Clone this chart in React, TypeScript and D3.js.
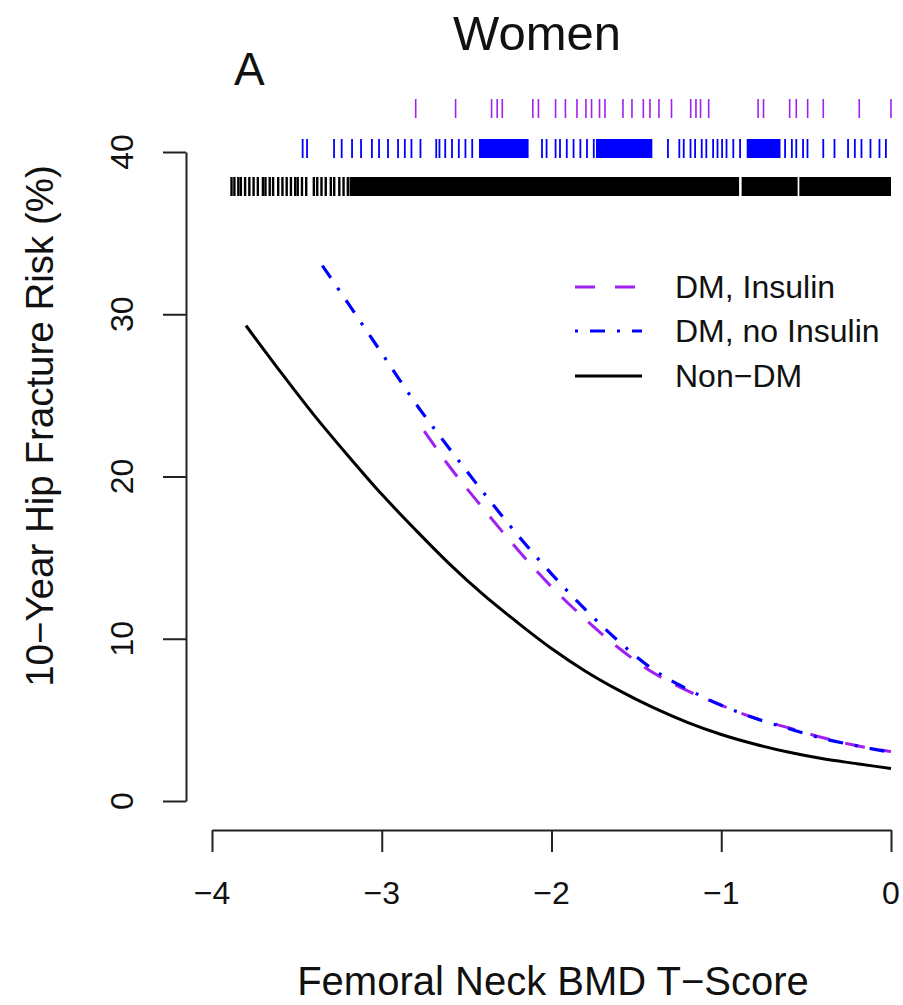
import React, { useEffect, useRef } from 'react';
import * as d3 from 'd3';

const W = 903;
const H = 1005;

const xTicks = [-4, -3, -2, -1, 0];
const yTicks = [0, 10, 20, 30, 40];

// Non-DM curve
const tNonDM = [-3.8, -3.6, -3.4, -3.2, -3.0, -2.8, -2.6, -2.4, -2.2, -2.0, -1.8, -1.6, -1.4, -1.2, -1.0, -0.8, -0.6, -0.4, -0.2, 0];
const riskNonDM = [29.3, 26.5, 23.8, 21.3, 18.9, 16.7, 14.6, 12.7, 11.0, 9.4, 8.0, 6.8, 5.75, 4.85, 4.1, 3.5, 3.0, 2.6, 2.3, 2.0];

// DM, no insulin
const tNoIns = [-3.35, -3.2, -3.0, -2.8, -2.6, -2.4, -2.2, -2.0, -1.8, -1.6, -1.4, -1.2, -1.0, -0.8, -0.6, -0.4, -0.2, 0];
const riskNoIns = [33.0, 30.7, 27.6, 24.5, 21.7, 19.0, 16.4, 14.0, 11.8, 9.8, 8.1, 6.9, 5.9, 5.1, 4.45, 3.85, 3.4, 3.0];

// DM, insulin
const tIns = [-2.75, -2.6, -2.4, -2.2, -2.0, -1.8, -1.6, -1.4, -1.2, -1.0, -0.8, -0.6, -0.4, -0.2, 0];
const riskIns = [22.8, 20.6, 18.0, 15.5, 13.2, 11.2, 9.4, 7.9, 6.8, 5.9, 5.1, 4.5, 3.9, 3.4, 3.05];

// Rug observations (T-scores)
const rugIns = [-2.80, -2.565, -2.353, -2.32, -2.29, -2.11, -2.077, -1.976, -1.918, -1.85, -1.797, -1.764, -1.717, -1.685, -1.579, -1.526, -1.459, -1.42, -1.367, -1.293, -1.18, -1.149, -1.122, -1.074, -0.783, -0.751, -0.597, -0.558, -0.491, -0.399, -0.187, 0.0];
const rugNoIns = [-3.466, -3.44, -3.281, -3.236, -3.175, -3.122, -3.058, -3.016, -2.963, -2.904, -2.864, -2.825, -2.772, -2.679, -2.66, -2.626, -2.586, -2.546, -2.507, -2.467, -2.056, -2.029, -1.976, -1.95, -1.91, -1.87, -1.83, -1.791, -1.751, -1.314, -1.247, -1.221, -1.181, -1.154, -1.115, -1.088, -1.048, -1.022, -0.995, -0.969, -0.929, -0.889, -0.624, -0.584, -0.558, -0.518, -0.492, -0.399, -0.333, -0.253, -0.213, -0.174, -0.121, -0.068, -0.03];
const rugNoInsDense = [[-2.427, -2.135], [-1.738, -1.406], [-0.85, -0.651]];
const rugNonDM = [-3.885, -3.868, -3.845, -3.83, -3.805, -3.78, -3.755, -3.73, -3.70, -3.685, -3.66, -3.64, -3.61, -3.585, -3.56, -3.535, -3.51, -3.495, -3.47, -3.445, -3.40, -3.38, -3.355, -3.33, -3.30, -3.28, -3.25, -3.225, -3.20];
const rugNonDMDense = [[-3.19, -0.895], [-0.88, -0.55], [-0.54, 0]];

const seriesNames = ['DM, Insulin', 'DM, no Insulin', 'Non\u2212DM'];

const FONT = "'Liberation Sans', Arial, Helvetica, sans-serif";
const PURPLE = '#a020f0';
const BLUE = '#0000ff';

export default function App() {
  const ref = useRef<SVGSVGElement>(null);

  useEffect(() => {
    const svg = d3.select(ref.current);
    svg.selectAll('*').remove();

    const x = d3.scaleLinear().domain([-4, 0]).range([212, 891]);
    const y = d3.scaleLinear().domain([0, 40]).range([801, 152]);

    // Axes
    const yAxis = svg.append('g').attr('transform', 'translate(186,0)')
      .call(d3.axisLeft(y).tickValues(yTicks).tickSize(23).tickSizeOuter(0).tickFormat(() => ''));
    const xAxis = svg.append('g').attr('transform', 'translate(0,830)')
      .call(d3.axisBottom(x).tickValues(xTicks).tickSize(22).tickSizeOuter(0).tickFormat(() => ''));
    [yAxis, xAxis].forEach((g) => {
      g.selectAll('path, line').attr('stroke', '#222').attr('stroke-width', 2);
    });

    // Y tick labels (rotated)
    svg.append('g').selectAll('text').data(yTicks).join('text')
      .attr('transform', (d) => `translate(133,${y(d)}) rotate(-90)`)
      .attr('text-anchor', 'middle')
      .attr('font-family', FONT).attr('font-size', 32).attr('fill', '#111')
      .text((d) => String(d));

    // X tick labels
    svg.append('g').selectAll('text').data(xTicks).join('text')
      .attr('x', (d) => x(d)).attr('y', 904)
      .attr('text-anchor', 'middle')
      .attr('font-family', FONT).attr('font-size', 32).attr('fill', '#111')
      .text((d) => (d < 0 ? '\u2212' + Math.abs(d) : String(d)));

    // Axis titles
    svg.append('text').attr('x', 553).attr('y', 995).attr('text-anchor', 'middle')
      .attr('font-family', FONT).attr('font-size', 40).attr('fill', '#111')
      .text('Femoral Neck BMD T\u2212Score');
    svg.append('text').attr('transform', 'translate(53,426) rotate(-90)').attr('text-anchor', 'middle')
      .attr('font-family', FONT).attr('font-size', 38.5).attr('fill', '#111')
      .text('10\u2212Year Hip Fracture Risk (%)');

    // Titles
    svg.append('text').attr('x', 537).attr('y', 50).attr('text-anchor', 'middle')
      .attr('font-family', FONT).attr('font-size', 49).attr('fill', '#111').text('Women');
    svg.append('text').attr('x', 234).attr('y', 85)
      .attr('font-family', FONT).attr('font-size', 46).attr('fill', '#111').text('A');

    // Rugs
    const rug = (vals: number[], y0: number, y1: number, color: string, w: number) => {
      svg.append('g').selectAll('line').data(vals).join('line')
        .attr('x1', (d) => x(d)).attr('x2', (d) => x(d))
        .attr('y1', y0).attr('y2', y1)
        .attr('stroke', color).attr('stroke-width', w);
    };
    const dense = (ranges: number[][], y0: number, y1: number, color: string) => {
      svg.append('g').selectAll('rect').data(ranges).join('rect')
        .attr('x', (d) => x(d[0])).attr('width', (d) => x(d[1]) - x(d[0]))
        .attr('y', y0).attr('height', y1 - y0).attr('fill', color);
    };
    rug(rugIns, 99, 118, PURPLE, 1.6);
    rug(rugNoIns, 139, 158, BLUE, 1.8);
    dense(rugNoInsDense, 139, 158, BLUE);
    rug(rugNonDM, 177, 196, '#000', 2.4);
    dense(rugNonDMDense, 177, 196, '#000');

    // Curves
    const line = d3.line<[number, number]>().x((d) => x(d[0])).y((d) => y(d[1])).curve(d3.curveMonotoneX);
    const zip = (a: number[], b: number[]) => a.map((v, i) => [v, b[i]] as [number, number]);

    svg.append('path').attr('d', line(zip(tNonDM, riskNonDM)))
      .attr('fill', 'none').attr('stroke', '#000').attr('stroke-width', 3);
    svg.append('path').attr('d', line(zip(tIns, riskIns)))
      .attr('fill', 'none').attr('stroke', PURPLE).attr('stroke-width', 3).attr('stroke-dasharray', '20,16');
    svg.append('path').attr('d', line(zip(tNoIns, riskNoIns)))
      .attr('fill', 'none').attr('stroke', BLUE).attr('stroke-width', 3.2).attr('stroke-dasharray', '15,12,3,12');

    // Legend
    const legY = [287, 331, 376];
    const legStyle = [
      { color: PURPLE, dash: '20,20' },
      { color: BLUE, dash: '3,12,15,12' },
      { color: '#000', dash: null as string | null },
    ];
    const leg = svg.append('g');
    seriesNames.forEach((name, i) => {
      const l = leg.append('line').attr('x1', 575).attr('x2', 642)
        .attr('y1', legY[i]).attr('y2', legY[i])
        .attr('stroke', legStyle[i].color).attr('stroke-width', 3);
      if (legStyle[i].dash) l.attr('stroke-dasharray', legStyle[i].dash as string);
      leg.append('text').attr('x', 675).attr('y', legY[i] + 11)
        .attr('font-family', FONT).attr('font-size', 32).attr('fill', '#111').text(name);
    });
  }, []);

  return (
    <svg ref={ref} width={W} height={H} viewBox={`0 0 ${W} ${H}`}
      style={{ position: 'absolute', left: 0, top: 0, background: '#fff' }} />
  );
}
